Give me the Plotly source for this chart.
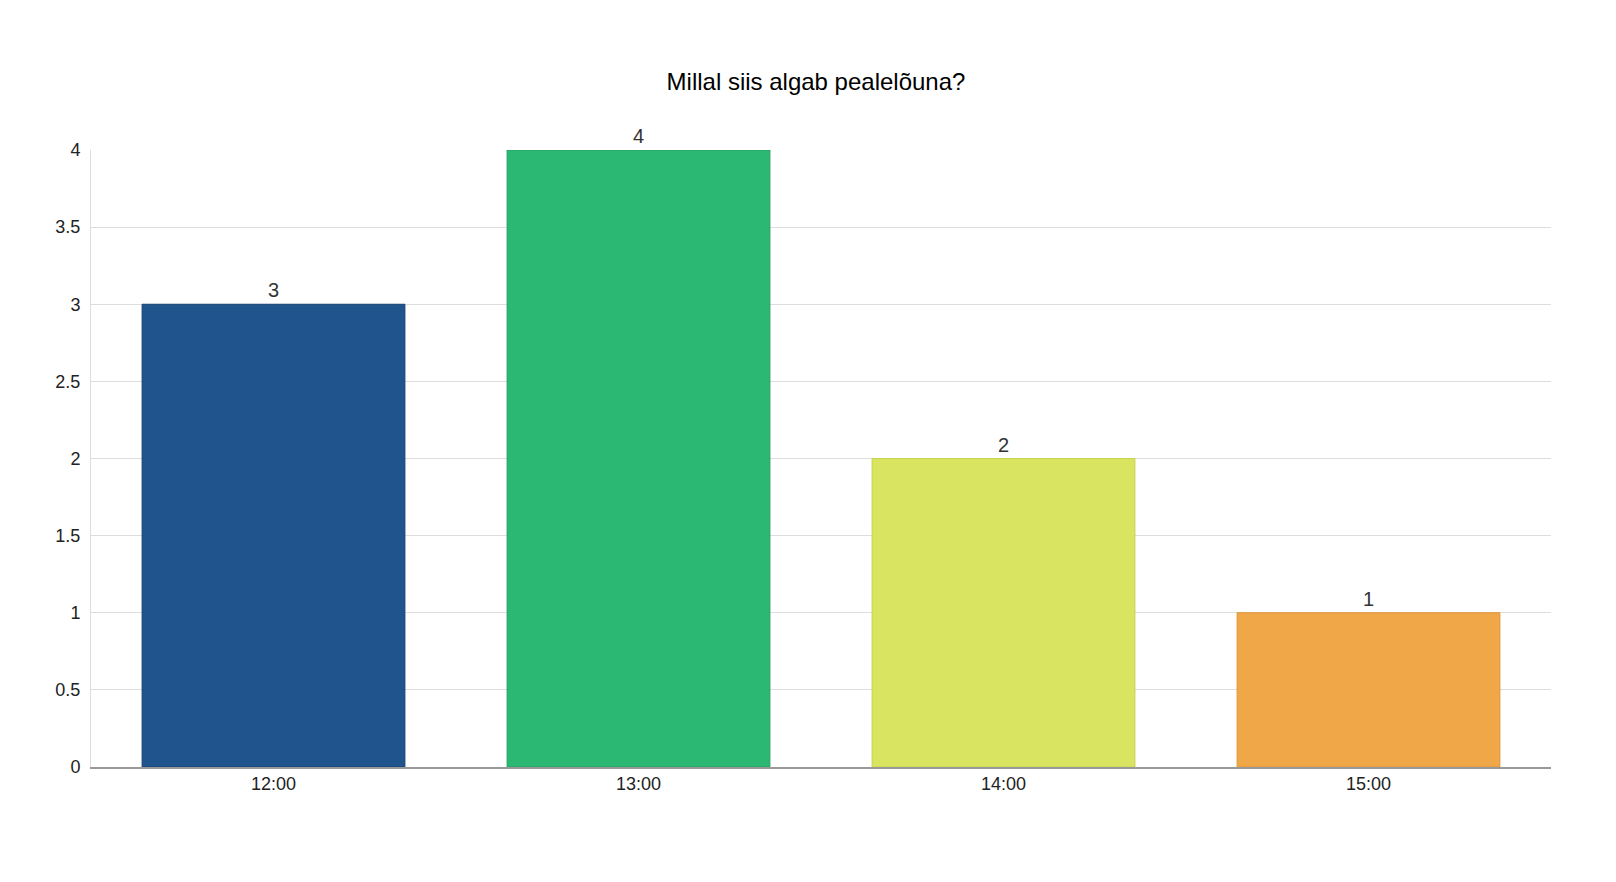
import plotly.graph_objects as go

categories = ["12:00", "13:00", "14:00", "15:00"]
counts = [3, 4, 2, 1]
colors = ["#1f548d", "#2bb873", "#d9e461", "#f0a748"]
edges = ["#16406e", "#24a062", "#c7d24f", "#de9438"]

fig = go.Figure(go.Bar(
    x=categories,
    y=counts,
    marker=dict(color=colors, line=dict(color=edges, width=1)),
    text=[str(c) for c in counts],
    textposition="outside",
    textfont=dict(size=20, color="#333333"),
    cliponaxis=False,
    width=0.72,
))

fig.update_layout(
    title=dict(text="Millal siis algab pealelõuna?", x=0.5, y=0.917,
               xanchor="center", yanchor="middle",
               font=dict(size=24, color="#000000")),
    font=dict(family="Liberation Sans, Arial, sans-serif", size=18, color="#222222"),
    plot_bgcolor="white",
    paper_bgcolor="white",
    width=1616,
    height=882,
    margin=dict(l=83, r=73, t=142, b=123),
    showlegend=False,
)
fig.update_xaxes(showline=True, linecolor="#999999", linewidth=1.5,
                 ticks="", tickfont=dict(size=18, color="#222222"))
fig.update_yaxes(range=[0, 4], dtick=0.5, gridcolor="#dddddd",
                 showline=True, linecolor="#dddddd", zeroline=False,
                 ticks="outside", ticklen=6, tickcolor="white",
                 tickfont=dict(size=18, color="#222222"))

fig.write_html("out.html")
